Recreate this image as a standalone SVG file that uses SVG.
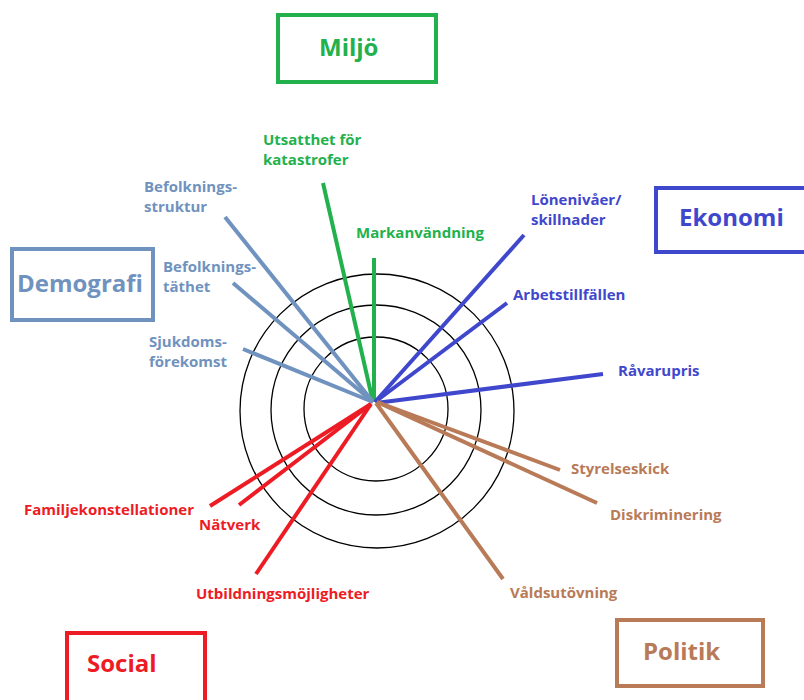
<svg xmlns="http://www.w3.org/2000/svg" width="804" height="700" viewBox="0 0 804 700">
<style>
.lbl{font-family:"Open Sans","Noto Sans","Liberation Sans",sans-serif;font-weight:700;font-size:15px}
.cat{font-family:"Open Sans","Noto Sans","Liberation Sans",sans-serif;font-weight:700;font-size:24px}
.box{fill:none;stroke-width:4}
.ring{fill:none;stroke:#000;stroke-width:1.3}
.g{fill:#22b14c}.gs{stroke:#22b14c}
.d{fill:#7092be}.ds{stroke:#7092be}
.b{fill:#3f48cc}.bs{stroke:#3f48cc}
.r{fill:#ed1c24}.rs{stroke:#ed1c24}
.p{fill:#b97a57}.ps{stroke:#b97a57}
#connectors line{stroke-width:4;stroke-linecap:butt}
</style>
<rect width="804" height="700" fill="#fff"/>
<g id="rings">
<circle class="ring" cx="376" cy="409" r="72"/>
<circle class="ring" cx="376" cy="410" r="105"/>
<circle class="ring" cx="377" cy="411" r="137"/>
</g>
<g id="connectors">
<line class="gs" x1="323" y1="183" x2="373" y2="402"/>
<line class="gs" x1="374" y1="258" x2="374" y2="402"/>
<line class="ds" x1="225" y1="217" x2="373" y2="402"/>
<line class="ds" x1="233" y1="283" x2="373" y2="402"/>
<line class="ds" x1="243" y1="349" x2="373" y2="402"/>
<line class="bs" x1="524" y1="235" x2="375" y2="402"/>
<line class="bs" x1="507" y1="303" x2="375" y2="402"/>
<line class="bs" x1="603" y1="374" x2="376" y2="403"/>
<line class="ps" x1="560" y1="470" x2="377" y2="402"/>
<line class="ps" x1="597" y1="503" x2="377" y2="402"/>
<line class="ps" x1="503" y1="579" x2="376" y2="403"/>
<line class="rs" x1="210" y1="506" x2="371" y2="404"/>
<line class="rs" x1="239" y1="505" x2="371" y2="404"/>
<line class="rs" x1="256" y1="574" x2="371" y2="404"/>
</g>
<g id="miljo"><rect class="box gs" x="278" y="15" width="158" height="67"/><text class="cat g" x="319" y="56">Miljö</text></g>
<g id="ekonomi"><rect class="box bs" x="656" y="188" width="150" height="64"/><text class="cat b" x="679" y="226">Ekonomi</text></g>
<g id="demografi"><rect class="box ds" x="12" y="249" width="141" height="71"/><text class="cat d" x="17" y="292">Demografi</text></g>
<g id="social"><rect class="box rs" x="67" y="633" width="138" height="72"/><text class="cat r" x="87" y="672">Social</text></g>
<g id="politik"><rect class="box ps" x="617" y="620" width="146" height="66"/><text class="cat p" x="643" y="660">Politik</text></g>
<g id="labels">
<text class="lbl g" x="263" y="145">Utsatthet för</text>
<text class="lbl g" x="263" y="165">katastrofer</text>
<text class="lbl g" x="356" y="238">Markanvändning</text>
<text class="lbl d" x="144" y="192">Befolknings-</text>
<text class="lbl d" x="144" y="212">struktur</text>
<text class="lbl d" x="163" y="272">Befolknings-</text>
<text class="lbl d" x="163" y="292">täthet</text>
<text class="lbl d" x="149" y="347">Sjukdoms-</text>
<text class="lbl d" x="149" y="367">förekomst</text>
<text class="lbl b" x="531" y="205">Lönenivåer/</text>
<text class="lbl b" x="531" y="225">skillnader</text>
<text class="lbl b" x="513" y="300">Arbetstillfällen</text>
<text class="lbl b" x="618" y="376">Råvarupris</text>
<text class="lbl p" x="571" y="474">Styrelseskick</text>
<text class="lbl p" x="610" y="520">Diskriminering</text>
<text class="lbl p" x="510" y="598">Våldsutövning</text>
<text class="lbl r" x="24" y="515">Familjekonstellationer</text>
<text class="lbl r" x="199" y="530">Nätverk</text>
<text class="lbl r" x="196" y="599">Utbildningsmöjligheter</text>
</g>
</svg>
